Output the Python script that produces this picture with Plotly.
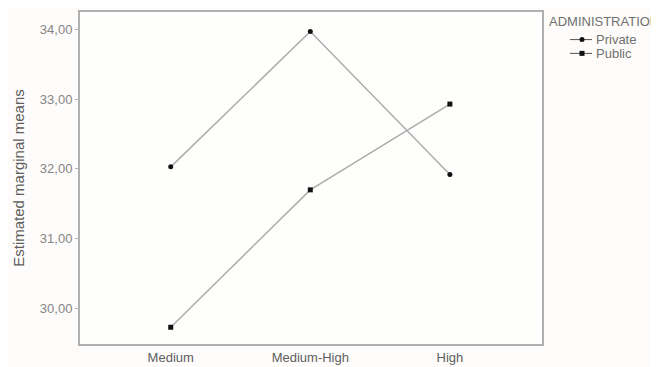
import plotly.graph_objects as go

categories = ["Medium", "Medium-High", "High"]
private_vals = [32.03, 33.97, 31.92]
public_vals = [29.73, 31.70, 32.93]
y_ticks = [30, 31, 32, 33, 34]
y_tick_labels = ["30,00", "31,00", "32,00", "33,00", "34,00"]
legend_title = "ADMINISTRATION"
series_names = ["Private", "Public"]
series_symbols = ["circle", "square"]

FONT = "Liberation Sans, Arial, sans-serif"
TXT = "#707070"
LINE = "#acacac"
FRAME = "#b0b0b0"

# page body has an 8px margin; figure sized to fit the 659x367 window
W, H = 651, 359
L, R, T, B = 72, 117, 2, 20
PW, PH = W - L - R, H - T - B


def px_x(page_x):
    return (page_x - 8 - L) / PW


def px_y(page_y):
    return 1 - (page_y - 8 - T) / PH


fig = go.Figure()
for name, vals, sym in zip(series_names, [private_vals, public_vals], series_symbols):
    fig.add_trace(go.Scatter(
        x=list(range(len(categories))), y=vals, mode="lines+markers", name=name,
        line=dict(color=LINE, width=1.5),
        marker=dict(symbol=sym, size=5, color="#111111"),
        showlegend=False,
    ))

shapes = []
annotations = [dict(
    text=legend_title, xref="paper", yref="paper", x=px_x(547), y=px_y(20),
    xanchor="left", yanchor="middle", showarrow=False,
    font=dict(family=FONT, size=13, color=TXT),
)]
for i, (name, sym) in enumerate(zip(series_names, series_symbols)):
    yy = px_y(38 + 14 * i)
    shapes.append(dict(type="line", xref="paper", yref="paper",
                       x0=px_x(570), x1=px_x(592), y0=yy, y1=yy,
                       line=dict(color="#555555", width=1)))
    shapes.append(dict(type="circle" if sym == "circle" else "rect",
                       xref="paper", yref="paper",
                       xsizemode="pixel", ysizemode="pixel",
                       xanchor=px_x(582), yanchor=yy,
                       x0=-2.5, x1=2.5, y0=-2.5, y1=2.5,
                       fillcolor="#111111", line=dict(width=0)))
    annotations.append(dict(
        text=name, xref="paper", yref="paper", x=px_x(594), y=yy,
        xanchor="left", yanchor="middle", showarrow=False,
        font=dict(family=FONT, size=13, color=TXT),
    ))

fig.update_layout(
    width=W, height=H,
    margin=dict(l=L, r=R, t=T, b=B),
    paper_bgcolor="#fdfcfa", plot_bgcolor="#fefefc",
    font=dict(family=FONT, size=13, color=TXT),
    showlegend=False,
    shapes=shapes, annotations=annotations,
    xaxis=dict(
        range=[-0.65, 2.66], tickmode="array", tickvals=[0, 1, 2], ticktext=categories,
        showgrid=False, zeroline=False, showline=True, linecolor=FRAME, linewidth=2,
        mirror=True, ticks="", tickfont=dict(family=FONT, size=13, color="#5e5e5e"),
    ),
    yaxis=dict(
        range=[29.49, 34.25], tickmode="array", tickvals=y_ticks, ticktext=y_tick_labels,
        showgrid=False, zeroline=False, showline=True, linecolor=FRAME, linewidth=2,
        mirror=True, ticks="outside", ticklen=3, tickcolor=FRAME,
        tickfont=dict(family=FONT, size=13, color="#858585"),
        title=dict(text="Estimated marginal means", font=dict(family=FONT, size=15, color="#5e5e5e"), standoff=12),
    ),
)

fig.write_html("out.html")
